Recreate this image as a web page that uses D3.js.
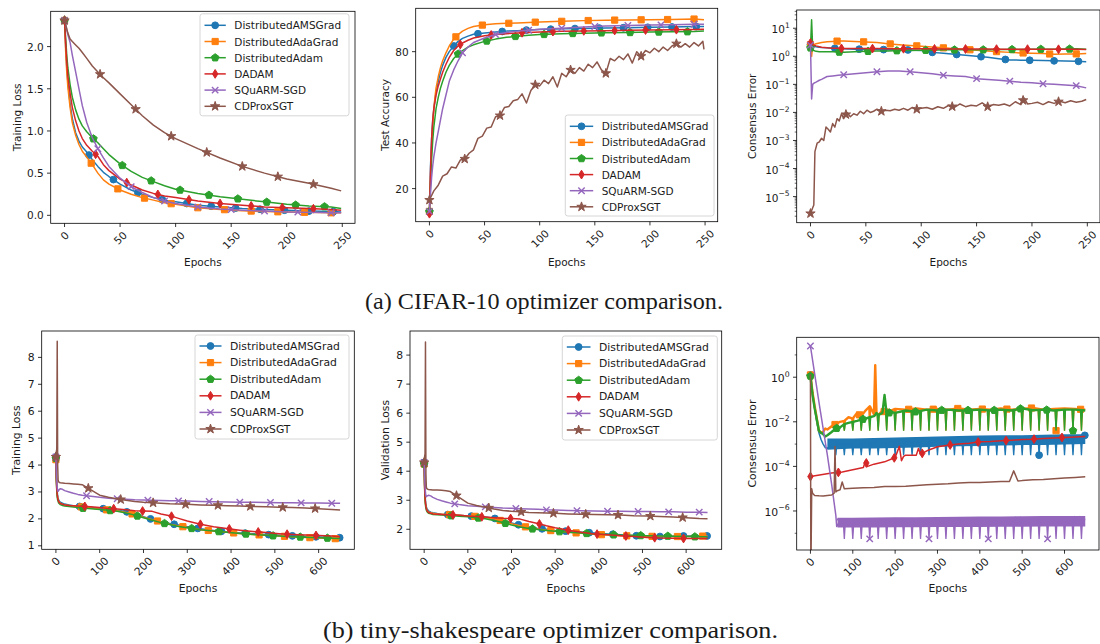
<!DOCTYPE html>
<html>
<head>
<meta charset="utf-8">
<script src="https://cdnjs.cloudflare.com/ajax/libs/d3/7.8.5/d3.min.js"></script>
<style>
  body { margin: 0; background: #fff; }
  svg text { font-family: "DejaVu Sans", sans-serif; fill: #1a1a1a; }
</style>
</head>
<body>
<svg width="1100" height="644"></svg>
<script>
const svg = d3.select('svg')

// methods, in plotting order
const names = ['DistributedAMSGrad', 'DistributedAdaGrad', 'DistributedAdam', 'DADAM', 'SQuARM-SGD', 'CDProxSGT']
const colors = ['#1f77b4', '#ff7f0e', '#2ca02c', '#d62728', '#9467bd', '#8c564b']
const markers = ['circle', 'square', 'pentagon', 'thinDiamond', 'x', 'star']
const markEveryA = [22, 24, 26, 28, 30, 32]
const markEveryB = [54, 58, 62, 66, 70, 74]

// tick values
const epochTicksA = [0, 50, 100, 150, 200, 250]
const epochTicksB = [0, 100, 200, 300, 400, 500, 600]
const lossTicksA = [0, 0.5, 1, 1.5, 2]
const accTicksA = [20, 40, 60, 80]
const ceTicksA = [1e-5, 1e-4, 1e-3, 1e-2, 1e-1, 1, 10]
const lossTicksB = [1, 2, 3, 4, 5, 6, 7, 8]
const valTicksB = [2, 3, 4, 5, 6, 7, 8]
const ceTicksB = [1e-6, 1e-4, 1e-2, 1]

// (a) CIFAR-10 training loss, one row per method
const trainEpochsA = [0, 1, 2, 3, 5, 7, 10, 13, 16, 20, 25, 30, 35, 40, 50, 60, 70, 80, 90, 100, 120, 140, 160, 180, 200, 220, 240, 249]
const trainLossA = [
  [2.31, 2.0, 1.75, 1.58, 1.32, 1.15, 0.98, 0.88, 0.81, 0.75, 0.66, 0.58, 0.51, 0.46, 0.37, 0.30, 0.25, 0.21, 0.18, 0.16, 0.12, 0.10, 0.08, 0.07, 0.06, 0.05, 0.045, 0.04],
  [2.31, 1.95, 1.7, 1.52, 1.28, 1.1, 0.95, 0.84, 0.76, 0.69, 0.6, 0.5, 0.42, 0.37, 0.3, 0.25, 0.21, 0.18, 0.15, 0.13, 0.09, 0.07, 0.055, 0.045, 0.04, 0.035, 0.03, 0.03],
  [2.31, 2.1, 1.9, 1.75, 1.55, 1.4, 1.25, 1.14, 1.06, 0.99, 0.92, 0.86, 0.79, 0.72, 0.61, 0.52, 0.45, 0.40, 0.35, 0.31, 0.26, 0.22, 0.19, 0.16, 0.13, 0.11, 0.10, 0.08],
  [2.31, 2.05, 1.82, 1.65, 1.45, 1.28, 1.12, 1.0, 0.91, 0.83, 0.76, 0.7, 0.6, 0.53, 0.43, 0.36, 0.3, 0.26, 0.23, 0.21, 0.17, 0.14, 0.12, 0.10, 0.09, 0.08, 0.07, 0.06],
  [2.31, 2.27, 2.2, 2.14, 2.05, 1.9, 1.7, 1.5, 1.3, 1.1, 0.92, 0.79, 0.68, 0.58, 0.44, 0.34, 0.27, 0.21, 0.17, 0.14, 0.1, 0.075, 0.06, 0.05, 0.04, 0.035, 0.03, 0.03],
  [2.31, 2.26, 2.21, 2.16, 2.09, 2.06, 2.02, 1.98, 1.93, 1.86, 1.77, 1.7, 1.63, 1.57, 1.44, 1.31, 1.18, 1.07, 0.98, 0.91, 0.79, 0.68, 0.58, 0.5, 0.43, 0.38, 0.32, 0.29]
]

// (a) test accuracy, first five methods
const accEpochsA = [0, 1, 2, 3, 4, 5, 6, 8, 10, 12, 15, 18, 22, 26, 30, 35, 40, 50, 60, 70, 80, 90, 100, 120, 140, 160, 180, 200, 220, 240, 249]
const accA = [
  [10, 30, 42, 50, 55, 59, 62, 67, 71, 74, 77.5, 80, 82.5, 84.5, 85.8, 86.8, 87.6, 88.2, 88.6, 89, 89.2, 89.5, 89.7, 90, 90.2, 90.4, 90.5, 90.7, 90.8, 91, 91],
  [10, 25, 38, 48, 55, 60, 64, 69, 73, 76, 79.5, 82.5, 85.5, 87.5, 89, 90.2, 91, 91.8, 92.2, 92.4, 92.6, 92.8, 93, 93.3, 93.6, 93.8, 93.9, 94, 94.1, 94.3, 94],
  [10, 22, 33, 41, 47, 51, 55, 60, 64, 67, 71, 74, 77, 79, 80.5, 82, 83, 84.5, 85.5, 86.3, 86.8, 87.2, 87.5, 87.9, 88.1, 88.3, 88.4, 88.6, 88.7, 88.8, 89],
  [9, 28, 42, 50, 55, 58, 61, 65, 68, 71, 74.5, 77.5, 80.5, 82.5, 83.8, 85, 86, 87, 87.5, 87.9, 88.2, 88.4, 88.6, 88.9, 89.1, 89.2, 89.4, 89.5, 89.6, 89.7, 89.8],
  [10, 18, 25, 30, 34, 37, 40, 45, 50, 55, 61, 67, 72, 76, 79.5, 82, 84, 86, 87.5, 88.4, 89, 89.4, 89.8, 90.3, 90.8, 91.2, 91.5, 91.7, 91.8, 92, 92]
]
// CDProxSGT test accuracy is noisy, so it has its own epochs
const accEpochsCdprox = [0, 4, 8, 12, 16, 20, 24, 28, 32, 36, 40, 44, 48, 52, 56, 60, 64, 68, 72, 76, 80, 84, 88, 92, 96, 100, 104, 108, 112, 116,
  120, 124, 128, 132, 136, 140, 144, 148, 152, 156, 160, 164, 168, 172, 176, 180, 184, 188, 192, 196, 200, 204, 208, 212, 216, 220, 224, 228, 232, 236,
  240, 244, 248, 249]
const accCdprox = [15, 19, 21.5, 25.5, 26.5, 29.5, 29, 32.5, 33, 35.5,
  37, 42, 43, 46.5, 47, 51.5, 52, 55.5, 56, 58.5,
  59, 61.5, 57.5, 63, 65.5, 65, 67.5, 66, 69, 64.5,
  70.5, 69, 72, 70.5, 73, 71.5, 74.5, 73, 75.5, 72,
  70.5, 77, 76, 78, 76.5, 79, 75, 80, 78, 80.5,
  79.5, 81.5, 80, 82, 80.5, 82.5, 83.5, 82, 83.5, 82,
  84, 82.5, 84.5, 81]

// (a) consensus error, first five methods
const ceEpochsA = [0, 1, 2, 3, 5, 8, 10, 15, 20, 25, 30, 40, 50, 60, 70, 80, 90, 100, 110, 120, 130, 140, 150, 160, 170, 180, 190, 200, 210, 220, 230, 240, 249]
const ceA = [
  [2.6, 2.5, 2.4, 2.3, 2.2, 2.1, 2.05, 2.0, 1.95, 1.9, 1.85, 1.8, 1.78, 1.75, 1.72, 1.7, 1.68, 1.6, 1.38, 1.28, 1.18, 1.08, 1.0, 0.92, 0.82, 0.74, 0.73, 0.72, 0.71, 0.69, 0.68, 0.67, 0.64],
  [2.6, 1.0, 2.4, 2.6, 2.8, 3.0, 3.1, 3.3, 3.4, 3.5, 3.5, 3.4, 3.25, 3.1, 2.8, 2.6, 2.45, 2.3, 2.15, 2.0, 1.85, 1.75, 1.65, 1.55, 1.45, 1.38, 1.32, 1.28, 1.25, 1.18, 1.2, 1.22, 1.25],
  [2.0, 20, 1.8, 1.6, 1.5, 1.45, 1.45, 1.45, 1.45, 1.42, 1.4, 1.45, 1.5, 1.55, 1.55, 1.6, 1.6, 1.65, 1.65, 1.7, 1.7, 1.7, 1.7, 1.72, 1.75, 1.75, 1.75, 1.78, 1.8, 1.8, 1.82, 1.85, 1.8],
  [3.0, 2.8, 2.6, 2.5, 2.35, 2.2, 2.1, 2.0, 1.95, 1.92, 1.9, 1.9, 1.88, 1.88, 1.87, 1.86, 1.85, 1.85, 1.84, 1.83, 1.83, 1.82, 1.82, 1.81, 1.8, 1.8, 1.8, 1.8, 1.79, 1.78, 1.78, 1.77, 1.75],
  [2.5, 0.03, 0.1, 0.11, 0.12, 0.14, 0.15, 0.19, 0.2, 0.21, 0.22, 0.24, 0.26, 0.28, 0.3, 0.3, 0.28, 0.26, 0.24, 0.21, 0.2, 0.19, 0.16, 0.15, 0.14, 0.13, 0.12, 0.115, 0.105, 0.1, 0.095, 0.09, 0.075]
]
const ceEpochsCdproxA = [0, 2, 3, 4, 6, 8, 10, 12, 14, 16, 18, 20, 22, 24, 26, 28, 30,
  33, 36, 39, 42, 45, 48, 51, 54, 57, 60, 64, 68, 72, 76, 80, 84, 88, 92, 96, 100,
  105, 110, 115, 120, 125, 130, 135, 140, 145, 150, 155, 160, 165, 170, 175, 180, 185, 190,
  193, 196, 200, 205, 210, 215, 220, 225, 230, 235, 240, 245, 249]
const ceCdproxA = [2.5e-6, 4e-6, 5e-6, 4e-4, 8e-4, 9e-4, 1.2e-3, 1e-3, 3e-3, 2.5e-3,
  2e-3, 4e-3, 3e-3, 6e-3, 5e-3, 9e-3, 6e-3,
  1e-2, 7e-3, 9e-3, 8e-3, 1.1e-2, 9e-3, 1.2e-2, 1e-2, 1.1e-2, 1.3e-2,
  1.1e-2, 1.2e-2, 1.15e-2, 1.3e-2, 1.2e-2, 1.4e-2, 1.2e-2, 1.5e-2, 1.3e-2, 1.4e-2,
  1.5e-2, 1.3e-2, 1.6e-2, 1.4e-2, 1.8e-2, 1.5e-2, 2e-2, 1.6e-2, 1.8e-2, 1.7e-2,
  2.2e-2, 1.6e-2, 1.9e-2, 1.8e-2, 2e-2, 1.7e-2, 2.4e-2, 1.9e-2,
  3.2e-2, 2e-2, 2.1e-2,
  2.3e-2, 1.9e-2, 2.4e-2, 2.1e-2, 2.5e-2, 2.2e-2, 2.6e-2, 2.3e-2, 2.5e-2, 2.9e-2]

// (b) tiny-shakespeare training and validation loss
const epochsB = [0, 1, 2, 3, 4, 5, 6, 8, 10, 15, 20, 30, 40, 50, 60, 80, 100, 120, 140, 160, 180, 200, 220, 240, 260, 280, 300, 330, 360, 390, 420, 450, 480, 510, 540, 570, 600, 630, 649]
const trainLossB = [
  [4.3, 3.6, 3.2, 3.0, 2.85, 2.78, 2.72, 2.66, 2.62, 2.58, 2.55, 2.52, 2.49, 2.47, 2.45, 2.42, 2.39, 2.36, 2.32, 2.27, 2.18, 2.08, 1.98, 1.9, 1.83, 1.77, 1.71, 1.63, 1.57, 1.52, 1.48, 1.45, 1.42, 1.39, 1.37, 1.35, 1.33, 1.31, 1.3],
  [4.2, 3.5, 3.1, 2.9, 2.8, 2.72, 2.67, 2.62, 2.58, 2.54, 2.52, 2.5, 2.48, 2.46, 2.44, 2.4, 2.36, 2.33, 2.3, 2.24, 2.16, 2.06, 1.97, 1.89, 1.8, 1.74, 1.68, 1.6, 1.55, 1.5, 1.46, 1.42, 1.39, 1.36, 1.34, 1.31, 1.29, 1.27, 1.26],
  [4.25, 3.4, 3.0, 2.8, 2.7, 2.65, 2.6, 2.56, 2.53, 2.5, 2.48, 2.46, 2.44, 2.42, 2.4, 2.38, 2.35, 2.32, 2.28, 2.22, 2.14, 2.04, 1.95, 1.86, 1.79, 1.72, 1.67, 1.6, 1.55, 1.5, 1.46, 1.42, 1.39, 1.36, 1.34, 1.32, 1.3, 1.28, 1.27],
  [4.3, 3.5, 3.1, 2.9, 2.78, 2.7, 2.65, 2.6, 2.57, 2.54, 2.52, 2.5, 2.49, 2.48, 2.47, 2.45, 2.42, 2.39, 2.37, 2.34, 2.3, 2.29, 2.28, 2.18, 2.12, 2.02, 1.92, 1.8, 1.71, 1.64, 1.58, 1.53, 1.49, 1.45, 1.42, 1.4, 1.38, 1.36, 1.34],
  [4.3, 3.8, 3.4, 3.15, 3.05, 3.02, 3.05, 3.1, 3.12, 3.1, 3.05, 3.0, 2.95, 2.91, 2.88, 2.84, 2.8, 2.77, 2.75, 2.73, 2.71, 2.7, 2.69, 2.68, 2.67, 2.67, 2.66, 2.65, 2.64, 2.63, 2.62, 2.62, 2.61, 2.6, 2.6, 2.59, 2.59, 2.58, 2.58],
  [4.3, 4.5, 4.6, 8.6, 4.0, 3.45, 3.38, 3.35, 3.34, 3.33, 3.32, 3.31, 3.3, 3.29, 3.27, 3.08, 2.88, 2.8, 2.74, 2.69, 2.65, 2.62, 2.6, 2.58, 2.56, 2.55, 2.54, 2.52, 2.51, 2.49, 2.48, 2.46, 2.45, 2.43, 2.42, 2.4, 2.38, 2.35, 2.33]
]
const valLossB = [
  [4.3, 3.6, 3.2, 3.0, 2.85, 2.78, 2.72, 2.67, 2.63, 2.59, 2.57, 2.54, 2.52, 2.51, 2.5, 2.48, 2.46, 2.44, 2.42, 2.38, 2.3, 2.22, 2.14, 2.08, 2.03, 2.0, 1.96, 1.93, 1.9, 1.87, 1.84, 1.81, 1.78, 1.76, 1.75, 1.76, 1.77, 1.77, 1.77],
  [4.25, 3.5, 3.1, 2.9, 2.8, 2.73, 2.68, 2.63, 2.6, 2.57, 2.55, 2.53, 2.52, 2.51, 2.5, 2.48, 2.46, 2.44, 2.4, 2.36, 2.28, 2.19, 2.12, 2.06, 2.01, 1.97, 1.94, 1.9, 1.86, 1.83, 1.8, 1.78, 1.77, 1.76, 1.75, 1.75, 1.75, 1.76, 1.77],
  [4.25, 3.4, 3.0, 2.82, 2.72, 2.66, 2.62, 2.58, 2.55, 2.53, 2.51, 2.5, 2.49, 2.48, 2.47, 2.45, 2.43, 2.4, 2.36, 2.3, 2.23, 2.15, 2.08, 2.03, 1.99, 1.96, 1.93, 1.9, 1.87, 1.84, 1.82, 1.8, 1.79, 1.78, 1.77, 1.76, 1.75, 1.74, 1.74],
  [4.3, 3.5, 3.1, 2.9, 2.78, 2.71, 2.66, 2.61, 2.58, 2.55, 2.53, 2.52, 2.51, 2.5, 2.5, 2.48, 2.46, 2.44, 2.42, 2.4, 2.38, 2.37, 2.35, 2.27, 2.2, 2.12, 2.05, 1.97, 1.9, 1.84, 1.81, 1.78, 1.75, 1.72, 1.7, 1.69, 1.68, 1.68, 1.68],
  [4.3, 3.9, 3.5, 3.25, 3.15, 3.12, 3.14, 3.16, 3.17, 3.15, 3.1, 3.03, 2.98, 2.94, 2.9, 2.85, 2.81, 2.79, 2.77, 2.75, 2.73, 2.72, 2.71, 2.7, 2.69, 2.67, 2.66, 2.65, 2.64, 2.63, 2.62, 2.62, 2.61, 2.61, 2.6, 2.6, 2.59, 2.59, 2.58],
  [4.3, 4.5, 4.6, 8.45, 3.9, 3.45, 3.4, 3.38, 3.37, 3.36, 3.35, 3.35, 3.34, 3.33, 3.3, 3.1, 2.9, 2.82, 2.76, 2.7, 2.65, 2.62, 2.6, 2.58, 2.57, 2.56, 2.55, 2.53, 2.52, 2.51, 2.5, 2.49, 2.47, 2.46, 2.44, 2.42, 2.4, 2.37, 2.36]
]

// (b) consensus error
const ceEpochsB = [0, 2, 5, 10, 15, 20, 25, 30, 35, 40, 50, 60, 70, 80, 90, 100, 110, 120, 130, 140, 150, 153, 156,
  160, 170, 175, 180, 190, 200, 225, 250, 275, 300, 325, 350, 375, 400, 425, 450, 475, 500, 525, 550, 575, 600, 625, 649]
const ceAmsB = [1.26, 0.63, 0.18, 0.04, 0.01, 0.0032, 0.0016, 0.001, 0.0007, 0.00063,
  0.001, 0.001, 0.001, 0.001, 0.001, 0.001, 0.001, 0.001, 0.0011, 0.0011, 0.0011, 0.0011, 0.0011,
  0.0011, 0.0011, 0.0011, 0.0011, 0.0012, 0.0012,
  0.0012, 0.0012, 0.0013, 0.0013, 0.0013, 0.0014, 0.0014, 0.0014, 0.0015, 0.0015, 0.0015, 0.0016, 0.0016, 0.0016, 0.0017, 0.0017, 0.0018, 0.0025]
const ceAdaGradB = [1.26, 0.63, 0.2, 0.05, 0.014, 0.004, 0.0032, 0.0035, 0.005, 0.0045,
  0.0063, 0.0079, 0.01, 0.011, 0.016, 0.014, 0.025, 0.018, 0.032, 0.05, 0.022, 3.5, 0.025,
  0.02, 0.032, 0.028, 0.035, 0.032, 0.038,
  0.035, 0.04, 0.035, 0.038, 0.035, 0.04, 0.035, 0.038, 0.035, 0.04, 0.035, 0.038, 0.042, 0.035, 0.038, 0.04, 0.038, 0.035]
const ceAdamB = [1.12, 0.5, 0.16, 0.04, 0.0126, 0.004, 0.0032, 0.0028, 0.0022, 0.0025,
  0.0035, 0.005, 0.0056, 0.0079, 0.0089, 0.01, 0.011, 0.0126, 0.014, 0.016, 0.018, 0.02, 0.025,
  0.02, 0.025, 0.16, 0.022, 0.028, 0.025,
  0.032, 0.028, 0.035, 0.032, 0.035, 0.032, 0.033, 0.035, 0.032, 0.035, 0.032, 0.04, 0.033, 0.035, 0.032, 0.035, 0.035, 0.032]
const ceEpochsDadamB = [0, 25, 50, 75, 100, 125, 130, 135, 150, 175, 200, 210, 215, 220, 225, 250, 255, 260, 275, 300,
  325, 350, 375, 400, 425, 450, 475, 500, 525, 550, 575, 600, 625, 649]
const ceDadamB = [3.5e-5, 4.2e-5, 5e-5, 5.6e-5, 7e-5, 8.9e-5, 1.8e-4, 1e-4, 1.26e-4, 1.6e-4,
  2.5e-4, 7.9e-4, 1.8e-4, 2.8e-4, 3.2e-4, 3.2e-4, 6.3e-4, 3.5e-4, 5e-4, 7.6e-4,
  8.9e-4, 1e-3, 1.1e-3, 1.26e-3, 1.3e-3, 1.4e-3, 1.5e-3, 1.6e-3, 1.66e-3, 1.8e-3,
  1.9e-3, 2e-3, 2.1e-3, 2.2e-3]
const ceEpochsSquarmB = [0, 10, 20, 30, 40, 50, 60, 62, 70, 100, 150, 200, 250, 300, 350, 400, 450, 500, 550, 600, 649]
const ceSquarmB = [25, 1.4, 0.079, 0.005, 3.2e-4, 1.6e-5, 6.3e-7, 2e-7, 3.2e-7, 3.2e-7, 3.3e-7, 3.4e-7, 3.5e-7, 3.5e-7, 3.6e-7, 3.7e-7, 3.8e-7, 3.9e-7, 4e-7, 4e-7, 4.2e-7]
const ceEpochsCdproxB = [0, 1, 3, 5, 10, 20, 30, 40, 50, 56, 58, 60, 62, 70, 75, 80, 100, 125, 150, 175,
  200, 225, 250, 275, 300, 325, 350, 375, 400, 425, 450, 470, 480, 490, 500, 525, 550, 575, 600, 625, 649]
const ceCdproxB = [1.4, 1e-9, 1e-5, 6.3e-6, 5e-6, 4.8e-6, 4.7e-6, 5e-6, 5.2e-6, 6.3e-6,
  7.9e-4, 7.1e-6, 7.9e-6, 8.9e-6, 2e-5, 1e-5, 1.05e-5, 1.1e-5, 1.12e-5, 1.26e-5,
  1.26e-5, 1.3e-5, 1.4e-5, 1.5e-5, 1.6e-5, 1.66e-5, 1.8e-5, 1.9e-5, 1.9e-5, 2e-5,
  2.1e-5, 2.1e-5, 6.3e-5, 2.2e-5, 2.3e-5, 2.5e-5, 2.6e-5, 2.8e-5, 3e-5, 3.2e-5, 3.4e-5]
// width of the fast oscillation band (upper / lower edge)
const bandEpochsAmsB = [40, 100, 150, 200, 250, 300, 350, 400, 450, 500, 550, 600, 649]
const bandHiAmsB = [0.0018, 0.0018, 0.0019, 0.002, 0.0021, 0.0022, 0.0023, 0.0024, 0.0025, 0.0025, 0.0026, 0.0028, 0.0028]
const bandLoAmsB = [0.00056, 0.00063, 0.00063, 0.00066, 0.0007, 0.00076, 0.0008, 0.00083, 0.00087, 0.0009, 0.0009, 0.00095, 0.001]
const bandEpochsSquarmB = [64, 100, 150, 200, 250, 300, 350, 400, 450, 500, 550, 600, 649]
const bandHiSquarmB = [5e-7, 5e-7, 5.1e-7, 5.2e-7, 5.3e-7, 5.4e-7, 5.5e-7, 5.6e-7, 5.7e-7, 5.8e-7, 5.9e-7, 6e-7, 6e-7]
const bandLoSquarmB = [1.8e-7, 1.8e-7, 1.8e-7, 1.85e-7, 1.85e-7, 1.9e-7, 1.9e-7, 1.9e-7, 1.95e-7, 1.95e-7, 2e-7, 2e-7, 2e-7]
// periodic drops every 20 epochs
const dipEpochsB = [60, 80, 100, 120, 140, 160, 180, 200, 220, 240, 260, 280, 300, 320, 340, 360, 380, 400, 420, 440,
  460, 480, 500, 520, 540, 560, 580, 600, 620, 640]
const dipFloorB = [3.2e-4, 4e-3, 4e-3, null, 5.6e-8, null]
const dipFromB = [60, 60, 60, null, 80, null]

// ---- marker shapes ----
function markerPath(type) {
  if (type === 'circle') return d3.symbol(d3.symbolCircle, Math.PI * 3.4 * 3.4)()
  if (type === 'square') return 'M-3.1,-3.1H3.1V3.1H-3.1Z'
  if (type === 'thinDiamond') return 'M0,-4.4L2.7,0L0,4.4L-2.7,0Z'
  if (type === 'x') return 'M-3.2,-3.2L3.2,3.2M-3.2,3.2L3.2,-3.2'
  if (type === 'pentagon') {
    const p = [0, 1, 2, 3, 4].map(k => {
      const a = -Math.PI / 2 + k * 2 * Math.PI / 5
      return [4 * Math.cos(a), 4 * Math.sin(a)]
    })
    return 'M' + p.join('L') + 'Z'
  }
  const p = [0, 1, 2, 3, 4, 5, 6, 7, 8, 9].map(k => {
    const a = -Math.PI / 2 + k * Math.PI / 5
    const r = k % 2 ? 1.9 : 4.9
    return [r * Math.cos(a), r * Math.sin(a)]
  })
  return 'M' + p.join('L') + 'Z'
}

function drawMarker(g, i, px, py) {
  g.append('path')
    .attr('d', markerPath(markers[i]))
    .attr('transform', `translate(${px},${py})`)
    .attr('fill', markers[i] === 'x' ? 'none' : colors[i])
    .attr('stroke', colors[i])
    .attr('stroke-width', markers[i] === 'x' ? 1.4 : 1)
}

function supLabel(t, v) {
  const k = Math.round(Math.log10(v))
  t.append('tspan').text('10')
  t.append('tspan').attr('dy', -4.5).attr('font-size', '0.72em')
    .text(k < 0 ? '\u2212' + (-k) : String(k))
}

// ---- one subplot ----
function panel(p) {
  const x = d3.scaleLinear().domain(p.xDomain).range([p.left, p.right])
  const y = (p.log ? d3.scaleLog() : d3.scaleLinear()).domain(p.yDomain).range([p.bottom, p.top])
  const g = svg.append('g')

  svg.append('clipPath').attr('id', 'clip-' + p.id)
    .append('rect')
    .attr('x', p.left).attr('y', p.top)
    .attr('width', p.right - p.left).attr('height', p.bottom - p.top)
  const plot = g.append('g').attr('clip-path', `url(#clip-${p.id})`)

  p.series.forEach(s => {
    const i = s.index
    const pts = s.epochs.map((e, k) => [x(e), y(s.values[k])])
    const at = e => {
      const j = d3.bisectLeft(s.epochs, e)
      if (s.epochs[j] === e) return pts[j]
      const t = (e - s.epochs[j - 1]) / (s.epochs[j] - s.epochs[j - 1])
      return [x(e), pts[j - 1][1] + t * (pts[j][1] - pts[j - 1][1])]
    }
    if (s.band) {
      plot.append('path').datum(s.band.epochs)
        .attr('d', d3.area().x(e => x(e)).y0((e, k) => y(s.band.lo[k])).y1((e, k) => y(s.band.hi[k])))
        .attr('fill', colors[i])
    }
    plot.append('path')
      .attr('d', d3.line()(pts))
      .attr('fill', 'none')
      .attr('stroke', colors[i])
      .attr('stroke-width', s.width || 1.5)
      .attr('stroke-linejoin', 'round')
    const dipSet = new Set()
    if (s.dips) {
      s.dips.epochs.filter(e => e >= s.dips.from).forEach(e => {
        dipSet.add(e)
        const [px, py] = at(e)
        plot.append('path')
          .attr('d', `M${px - 1},${py}L${px},${y(s.dips.floor)}L${px + 1},${py}`)
          .attr('fill', colors[i]).attr('stroke', colors[i]).attr('stroke-width', 1.3)
      })
    }
    if (s.every) {
      const last = s.epochs[s.epochs.length - 1]
      for (let e = 0; e <= last; e += s.every) {
        const q = at(e)
        drawMarker(plot, i, q[0], dipSet.has(e) ? y(s.dips.floor) : q[1])
      }
    }
  })

  // frame
  g.append('rect')
    .attr('x', p.left).attr('y', p.top)
    .attr('width', p.right - p.left).attr('height', p.bottom - p.top)
    .attr('fill', 'none').attr('stroke', '#000').attr('stroke-width', 0.8)

  // x ticks, labels turned 45 degrees
  p.xTicks.forEach(v => {
    g.append('line').attr('x1', x(v)).attr('x2', x(v)).attr('y1', p.bottom).attr('y2', p.bottom + 3.7)
      .attr('stroke', '#000').attr('stroke-width', 0.8)
    const t = g.append('text').text(v).attr('font-size', p.fs)
      .attr('text-anchor', 'middle').attr('dominant-baseline', 'central')
    const w = t.node().getComputedTextLength()
    const hh = (w + p.fs * 0.75) * Math.SQRT1_2 / 2
    t.attr('transform', `translate(${x(v)},${p.bottom + 7 + hh}) rotate(-45)`)
  })

  // y ticks
  if (p.minor) {
    p.minor.filter(v => v > p.yDomain[0] && v < p.yDomain[1]).forEach(v => {
      g.append('line').attr('x1', p.left - 2).attr('x2', p.left).attr('y1', y(v)).attr('y2', y(v))
        .attr('stroke', '#000').attr('stroke-width', 0.6)
    })
  }
  p.yTicks.forEach(v => {
    g.append('line').attr('x1', p.left - 3.7).attr('x2', p.left).attr('y1', y(v)).attr('y2', y(v))
      .attr('stroke', '#000').attr('stroke-width', 0.8)
    const t = g.append('text').attr('font-size', p.fs)
      .attr('x', p.left - 7).attr('y', y(v) + (p.log ? 1 : 0))
      .attr('text-anchor', 'end').attr('dominant-baseline', 'central')
    if (p.log) supLabel(t, v)
    else t.text(p.fmt(v))
  })

  g.append('text').text(p.ylabel).attr('font-size', p.fs)
    .attr('text-anchor', 'middle').attr('dominant-baseline', 'central')
    .attr('transform', `translate(${p.ylabX},${(p.top + p.bottom) / 2}) rotate(-90)`)
  g.append('text').text('Epochs').attr('font-size', p.fs)
    .attr('text-anchor', 'middle').attr('dominant-baseline', 'central')
    .attr('x', (p.left + p.right) / 2).attr('y', p.xlabY)

  if (p.legend) {
    const L = p.legend
    const lg = g.append('g')
    lg.append('rect').attr('x', L.x).attr('y', L.y).attr('width', L.w).attr('height', L.h)
      .attr('rx', 2.5).attr('fill', '#fff').attr('fill-opacity', 0.8)
      .attr('stroke', '#cccccc').attr('stroke-width', 0.8)
    names.forEach((n, i) => {
      const ry = L.row0 + i * L.step
      lg.append('line').attr('x1', L.x + 4.5).attr('x2', L.textX - 8.5).attr('y1', ry).attr('y2', ry)
        .attr('stroke', colors[i]).attr('stroke-width', 1.5)
      drawMarker(lg, i, (L.x + 4.5 + L.textX - 8.5) / 2, ry)
      lg.append('text').text(n).attr('font-size', p.fs)
        .attr('x', L.textX).attr('y', ry).attr('dominant-baseline', 'central')
    })
  }
}

const minorA = []
;[-7, -6, -5, -4, -3, -2, -1, 0, 1].forEach(k => [2, 3, 4, 5, 6, 7, 8, 9].forEach(m => minorA.push(m * Math.pow(10, k))))
const minorB = [1e-7, 1e-5, 1e-3, 1e-1, 10]

const topX = [-12.45, 261.45]
const botX = [-32.45, 681.45]

panel({
  id: 'a1', left: 50.7, right: 355, top: 11.3, bottom: 223.3, xDomain: topX, yDomain: [-0.0945, 2.4185],
  xTicks: epochTicksA, yTicks: lossTicksA, fmt: d3.format('.1f'), ylabel: 'Training Loss', ylabX: 16.7, xlabY: 262, fs: 10.5,
  series: trainLossA.map((v, i) => ({ index: i, epochs: trainEpochsA, values: v, every: markEveryA[i] })),
  legend: { x: 200, y: 13.8, w: 149, h: 102, row0: 25.3, step: 16.2, textX: 234.3 }
})
panel({
  id: 'a2', left: 415.7, right: 717.7, top: 8.3, bottom: 221.7, xDomain: topX, yDomain: [5.5, 99],
  xTicks: epochTicksA, yTicks: accTicksA, fmt: d3.format('d'), ylabel: 'Test Accuracy', ylabX: 385, xlabY: 262, fs: 10.5,
  series: accA.map((v, i) => ({ index: i, epochs: accEpochsA, values: v, every: markEveryA[i] }))
    .concat([{ index: 5, epochs: accEpochsCdprox, values: accCdprox, every: markEveryA[5] }]),
  legend: { x: 565.3, y: 115, w: 148.7, h: 101, row0: 126.3, step: 16.1, textX: 601.7 }
})
panel({
  id: 'a3', left: 796.7, right: 1100, top: 10, bottom: 222.7, log: true, xDomain: topX, yDomain: [Math.pow(10, -5.93), Math.pow(10, 1.65)],
  xTicks: epochTicksA, yTicks: ceTicksA, minor: minorA, ylabel: 'Consensus Error', ylabX: 752, xlabY: 262, fs: 10.5,
  series: ceA.map((v, i) => ({ index: i, epochs: ceEpochsA, values: v, every: markEveryA[i] }))
    .concat([{ index: 5, epochs: ceEpochsCdproxA, values: ceCdproxA, every: markEveryA[5] }])
})
panel({
  id: 'b1', left: 41.7, right: 354.3, top: 331, bottom: 549.3, xDomain: botX, yDomain: [0.87, 8.98],
  xTicks: epochTicksB, yTicks: lossTicksB, fmt: d3.format('d'), ylabel: 'Training Loss', ylabX: 16.7, xlabY: 588.5, fs: 10.8,
  series: trainLossB.map((v, i) => ({ index: i, epochs: epochsB, values: v, every: markEveryB[i] })),
  legend: { x: 195, y: 335, w: 154, h: 104, row0: 346, step: 16.6, textX: 230 }
})
panel({
  id: 'b2', left: 410, right: 721.7, top: 331, bottom: 549.3, xDomain: botX, yDomain: [1.31, 8.83],
  xTicks: epochTicksB, yTicks: valTicksB, fmt: d3.format('d'), ylabel: 'Validation Loss', ylabX: 385, xlabY: 588.5, fs: 10.8,
  series: valLossB.map((v, i) => ({ index: i, epochs: epochsB, values: v, every: markEveryB[i] })),
  legend: { x: 562.3, y: 336, w: 155, h: 104, row0: 347, step: 16.6, textX: 599 }
})
const ceSeriesB = [
  { index: 0, epochs: ceEpochsB, values: ceAmsB, band: { epochs: bandEpochsAmsB, hi: bandHiAmsB, lo: bandLoAmsB } },
  { index: 1, epochs: ceEpochsB, values: ceAdaGradB, width: 2.4 },
  { index: 2, epochs: ceEpochsB, values: ceAdamB, width: 2.4 },
  { index: 3, epochs: ceEpochsDadamB, values: ceDadamB },
  { index: 4, epochs: ceEpochsSquarmB, values: ceSquarmB, band: { epochs: bandEpochsSquarmB, hi: bandHiSquarmB, lo: bandLoSquarmB } },
  { index: 5, epochs: ceEpochsCdproxB, values: ceCdproxB }
]
ceSeriesB.forEach(s => {
  if (dipFloorB[s.index]) s.dips = { epochs: dipEpochsB, floor: dipFloorB[s.index], from: dipFromB[s.index] }
  if (s.index < 5) s.every = markEveryB[s.index]
})
panel({
  id: 'b3', left: 796.7, right: 1099, top: 337.3, bottom: 550, log: true, xDomain: botX, yDomain: [Math.pow(10, -7.75), Math.pow(10, 1.79)],
  xTicks: epochTicksB, yTicks: ceTicksB, minor: minorB, ylabel: 'Consensus Error', ylabX: 752, xlabY: 588.5, fs: 10.8,
  series: ceSeriesB
})

// sub-captions
svg.append('text').text('(a) CIFAR-10 optimizer comparison.')
  .attr('x', 365).attr('y', 309).attr('textLength', 358).attr('lengthAdjust', 'spacingAndGlyphs')
  .style('font-family', '"Liberation Serif", serif').attr('font-size', 22.5)
svg.append('text').text('(b) tiny-shakespeare optimizer comparison.')
  .attr('x', 323).attr('y', 638).attr('textLength', 455).attr('lengthAdjust', 'spacingAndGlyphs')
  .style('font-family', '"Liberation Serif", serif').attr('font-size', 22.5)
</script>
</body>
</html>
